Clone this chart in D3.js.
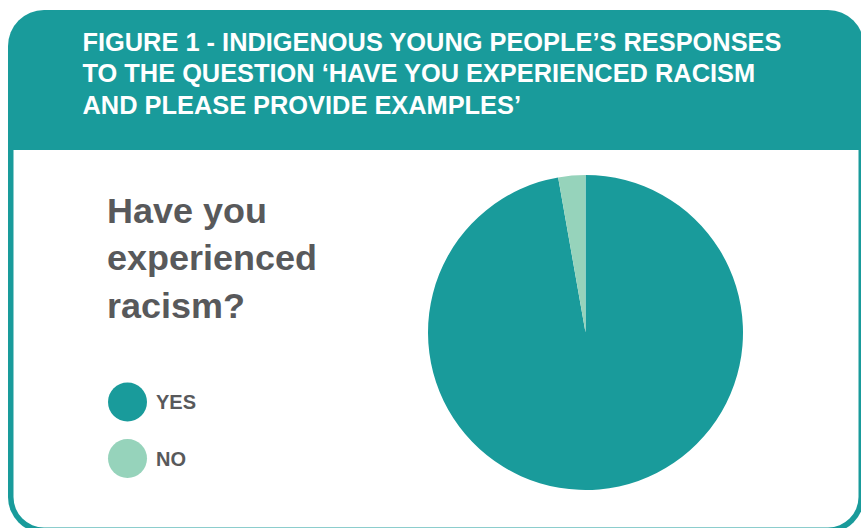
<!DOCTYPE html>
<html lang="en">

<head>
    <title>Figure 1</title>
    <meta charset="utf-8">
    <script src="https://d3js.org/d3.v7.min.js"></script>
    <style>
        body { margin: 0; background: #fff; }
        svg { display: block; font-family: "Liberation Sans", Arial, sans-serif; }
    </style>
</head>

<body>
    <div id="container1"></div>
    <script>
        // Data
        const categories = ["YES", "NO"];
        const responses = [35, 1];
        const colors = ["#199b9b", "#96d3bb"];
        const titleLines = [
            "FIGURE 1 - INDIGENOUS YOUNG PEOPLE\u2019S RESPONSES",
            "TO THE QUESTION \u2018HAVE YOU EXPERIENCED RACISM",
            "AND PLEASE PROVIDE EXAMPLES\u2019"
        ];
        const questionLines = ["Have you", "experienced", "racism?"];

        const W = 861, H = 528;
        const teal = "#199b9b";

        const svg = d3.select("#container1")
            .append("svg")
            .attr("width", W)
            .attr("height", H);

        // Frame
        const fx = 8, fy = 10, fw = 856, fh = 523, r = 36, bw = 5.5, headerH = 140;
        svg.append("rect")
            .attr("x", fx).attr("y", fy)
            .attr("width", fw).attr("height", fh)
            .attr("rx", r)
            .attr("fill", teal);

        const ix = fx + bw, iy = fy + headerH, iw = fw - 2 * bw, ih = fh - headerH - bw, ir = r - bw;
        svg.append("path")
            .attr("d", `M${ix},${iy} H${ix + iw} V${iy + ih - ir} A${ir},${ir} 0 0 1 ${ix + iw - ir},${iy + ih}
                H${ix + ir} A${ir},${ir} 0 0 1 ${ix},${iy + ih - ir} Z`)
            .attr("fill", "#fff");

        // Title
        const title = svg.append("g")
            .attr("transform", "translate(82.5,0)");
        const titleText = title.selectAll("text")
            .data(titleLines)
            .join("text")
            .attr("y", (d, i) => 51 + i * 31.5)
            .attr("fill", "#fff")
            .attr("font-size", 25)
            .attr("font-weight", "bold")
            .text(d => d);
        const w1 = titleText.node().getComputedTextLength();
        titleText.attr("transform", `scale(${699 / w1},1)`);

        // Question
        const q = svg.append("g").attr("transform", "translate(107,0)");
        const qText = q.selectAll("text")
            .data(questionLines)
            .join("text")
            .attr("y", (d, i) => 223 + i * 47.5)
            .attr("fill", "#58595b")
            .attr("font-size", 36)
            .attr("font-weight", "bold")
            .text(d => d);
        const w2 = qText.filter((d, i) => i === 1).node().getComputedTextLength();
        qText.attr("transform", `scale(${210 / w2},1)`);

        // Legend
        const legend = svg.selectAll(".legend")
            .data(categories)
            .join("g")
            .attr("class", "legend")
            .attr("transform", (d, i) => `translate(127.5,${402 + i * 56.5})`);
        legend.append("circle")
            .attr("r", 19.5)
            .attr("fill", (d, i) => colors[i]);
        legend.append("text")
            .attr("x", 28.5)
            .attr("y", 7)
            .attr("fill", "#58595b")
            .attr("font-size", 20)
            .attr("font-weight", "bold")
            .text(d => d);

        // Pie
        const pie = d3.pie().sort(null);
        const arc = d3.arc().innerRadius(0).outerRadius(157.5);
        svg.append("g")
            .attr("transform", "translate(585.5,332.5)")
            .selectAll("path")
            .data(pie(responses))
            .join("path")
            .attr("d", arc)
            .attr("fill", (d, i) => colors[i]);
    </script>
</body>

</html>
